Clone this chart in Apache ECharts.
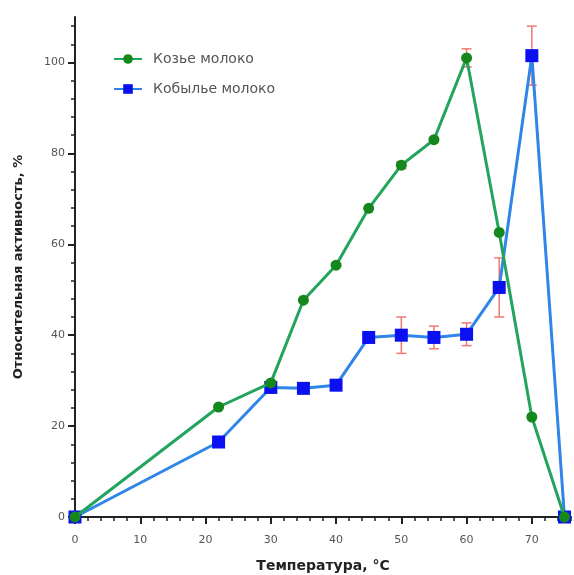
<!DOCTYPE html>
<html><head><meta charset="utf-8">
<script src="https://cdn.jsdelivr.net/npm/echarts@6/dist/echarts.min.js"></script>
<style>html,body{margin:0;padding:0;background:#fff}#c{width:574px;height:575px}</style>
</head><body><div id="c"></div>
<script>
var temps = [0, 22, 30, 35, 40, 45, 50, 55, 60, 65, 70, 75];
var goatMilk = [0, 24.2, 29.5, 47.7, 55.4, 67.9, 77.4, 83, 101, 62.6, 22, 0];
var goatErr  = [0, 0, 0, 0, 0, 0, 0.8, 0, 2, 0, 0, 0];
var mareMilk = [0, 16.5, 28.5, 28.3, 29, 39.5, 40, 39.5, 40.2, 50.5, 101.5, 0];
var mareErr  = [0, 0, 0, 0, 1, 0.5, 4, 2.5, 2.5, 6.5, 6.5, 0];
var xMajorTicks = [0, 10, 20, 30, 40, 50, 60, 70];
var xMinorTicks = [0,2,4,6,8,10,12,14,16,18,20,22,24,26,28,30,32,34,36,38,40,42,44,46,48,50,52,54,56,58,60,62,64,66,68,70,72,74,76];
var yMajorTicks = [0, 20, 40, 60, 80, 100];
var yMinorTicks = [0,4,8,12,16,20,24,28,32,36,40,44,48,52,56,60,64,68,72,76,80,84,88,92,96,100,104,108];
var seriesNames = ['Козье молоко', 'Кобылье молоко'];
var xTitle = 'Температура, °C';
var yTitle = 'Относительная активность, %';

function pairs(xs, ys){ return xs.map(function(x,i){ return [x, ys[i]]; }); }
function errData(xs, ys, es){
  var out = [];
  xs.forEach(function(x,i){ if (es[i] > 0) out.push([x, ys[i] - es[i], ys[i] + es[i]]); });
  return out;
}
function renderErr(params, api){
  var x = api.value(0), lo = api.value(1), hi = api.value(2);
  var pLo = api.coord([x, lo]), pHi = api.coord([x, hi]);
  var w = 5;
  var st = {stroke: '#ee7b72', lineWidth: 1.5};
  return {type: 'group', children: [
    {type: 'line', shape: {x1: pLo[0], y1: pLo[1], x2: pHi[0], y2: pHi[1]}, style: st},
    {type: 'line', shape: {x1: pLo[0]-w, y1: pLo[1], x2: pLo[0]+w, y2: pLo[1]}, style: st},
    {type: 'line', shape: {x1: pHi[0]-w, y1: pHi[1], x2: pHi[0]+w, y2: pHi[1]}, style: st}
  ]};
}
var font = 'DejaVu Sans, Liberation Sans, Arial, sans-serif';
var XMAX = 76, YMAX = 110;
var chart = echarts.init(document.getElementById('c'), null, {renderer: 'canvas'});
chart.setOption({
  animation: false,
  textStyle: {fontFamily: font},
  grid: {left: 75, right: 3, top: 17, bottom: 58, containLabel: false, outerBoundsMode: 'none'},
  legend: {
    left: 108, top: 46, orient: 'vertical', itemGap: 14, itemWidth: 28, itemHeight: 12,
    textStyle: {fontSize: 14, lineHeight: 16, color: '#555', fontFamily: font, padding: [0, 0, 0, 6]},
    data: seriesNames
  },
  xAxis: [{
    type: 'value', min: 0, max: XMAX,
    name: xTitle, nameLocation: 'middle', nameGap: 42,
    nameTextStyle: {fontSize: 14, fontWeight: 'bold', color: '#222', fontFamily: font},
    axisLine: {onZero: false, lineStyle: {color: '#222', width: 2}},
    axisTick: {show: true, length: 7, lineStyle: {color: '#222', width: 2}, customValues: xMajorTicks},
    axisLabel: {customValues: xMajorTicks, fontSize: 11, color: '#555', margin: 18, fontFamily: font},
    splitLine: {show: false}
  }, {
    type: 'value', min: 0, max: XMAX, position: 'bottom',
    axisLine: {show: false},
    axisTick: {show: true, length: 4, lineStyle: {color: '#222', width: 1.5}, customValues: xMinorTicks},
    axisLabel: {show: false}, splitLine: {show: false}
  }],
  yAxis: [{
    type: 'value', min: 0, max: YMAX,
    name: yTitle, nameLocation: 'middle', nameGap: 50, nameRotate: 90,
    nameTextStyle: {fontSize: 13, fontWeight: 'bold', color: '#222', fontFamily: font},
    axisLine: {show: true, lineStyle: {color: '#222', width: 2}},
    axisTick: {show: true, length: 7, lineStyle: {color: '#222', width: 2}, customValues: yMajorTicks},
    axisLabel: {customValues: yMajorTicks, fontSize: 11, color: '#555', margin: 10, fontFamily: font},
    splitLine: {show: false}
  }, {
    type: 'value', min: 0, max: YMAX, position: 'left',
    axisLine: {show: false},
    axisTick: {show: true, length: 4, lineStyle: {color: '#222', width: 1.5}, customValues: yMinorTicks},
    axisLabel: {show: false}, splitLine: {show: false}
  }],
  series: [{
    type: 'custom', name: 'errGoat', renderItem: renderErr, z: 1,
    data: errData(temps, goatMilk, goatErr), encode: {x: 0, y: [1, 2]}, silent: true
  }, {
    type: 'custom', name: 'errMare', renderItem: renderErr, z: 1,
    data: errData(temps, mareMilk, mareErr), encode: {x: 0, y: [1, 2]}, silent: true
  }, {
    name: seriesNames[0], type: 'line', z: 3,
    data: pairs(temps, goatMilk),
    symbol: 'circle', symbolSize: 11, showAllSymbol: true,
    lineStyle: {color: '#22a45c', width: 3},
    itemStyle: {color: '#15871c', borderWidth: 0}
  }, {
    name: seriesNames[1], type: 'line', z: 2,
    data: pairs(temps, mareMilk),
    symbol: 'rect', symbolSize: 13, showAllSymbol: true,
    lineStyle: {color: '#2f86e8', width: 3},
    itemStyle: {color: '#0a10f0', borderWidth: 0}
  }]
});
</script></body></html>
